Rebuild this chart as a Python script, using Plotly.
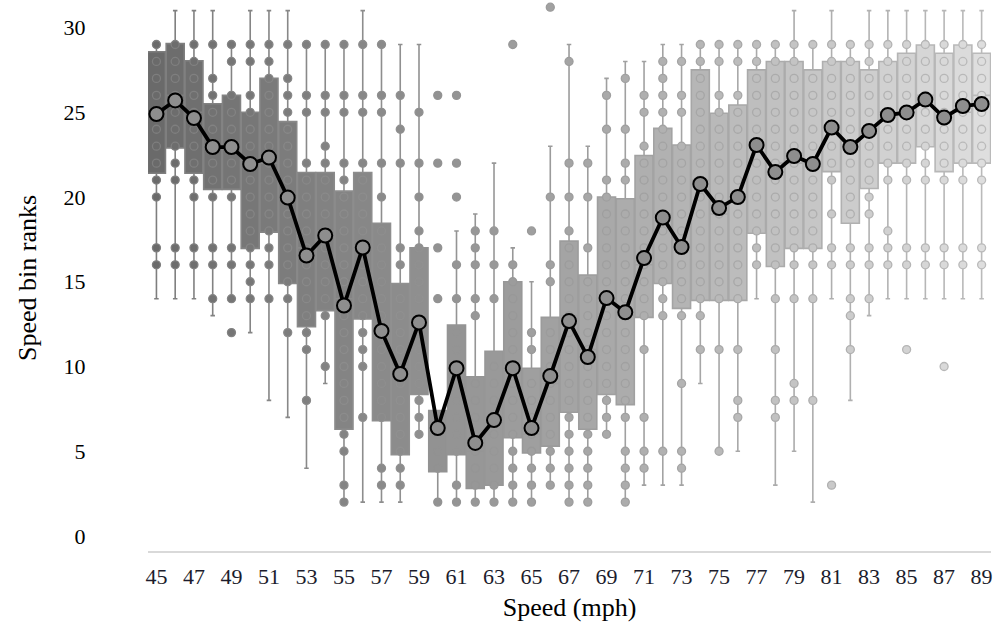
import plotly.graph_objects as go

# ---------------- data ----------------
speeds = [45, 46, 47, 48, 49, 50, 51, 52, 53, 54, 55, 56, 57, 58, 59, 60, 61,
          62, 63, 64, 65, 66, 67, 68, 69, 70, 71, 72, 73, 74, 75, 76, 77, 78,
          79, 80, 81, 82, 83, 84, 85, 86, 87, 88, 89]

q1 = [21.4, 22.9, 21.4, 20.45, 20.45, 16.97, 17.93, 14.9, 12.35, 13.3, 6.3,
      12.8, 6.8, 4.8, 8.35, 3.8, 4.8, 2.8, 3.0, 5.8, 4.9, 5.3, 7.3, 6.3, 8.35,
      7.75, 12.9, 14.9, 13.43, 13.9, 13.9, 13.9, 17.86, 15.9, 16.97, 16.97,
      21.5, 18.45, 20.5, 22.0, 22.0, 22.97, 21.5, 22.0, 22.0]

q3 = [28.57, 29.05, 28.04, 25.5, 26.0, 25.0, 27.0, 24.45, 21.45, 21.45, 20.35,
      21.45, 18.45, 14.9, 17.0, 7.4, 12.45, 9.4, 10.9, 15.0, 9.9, 12.9, 17.4,
      15.4, 20.0, 19.9, 22.45, 24.05, 23.07, 27.5, 24.94, 25.43, 27.5, 28.0,
      28.0, 27.5, 28.0, 28.0, 27.5, 28.0, 28.48, 28.97, 28.48, 28.97, 28.48]

medians = [25, 26, 25, 23, 23, 22, 22, 20, 17, 18, 14, 17, 12, 10, 13, 6, 10,
           5, 7, 10, 6, 9, 13, 11, 14, 13, 16, 19, 17, 21, 19, 20, 23, 22, 22,
           22, 24, 23, 24, 25, 25, 26, 25, 25, 26]

whisker_low = [14, 14, 14, 13, 14, 12, 8, 7, 4, 9, 2, 2, 2, 2, 6, 2, 2, 2, 2,
               2, 2, 3, 2, 2, 6, 2, 3, 3, 3, 9, 5, 5, 14, 3, 5, 2, 14, 8, 13,
               14, 14, 14, 14, 14, 14]

whisker_high = [29, 31, 31, 31, 29, 31, 31, 31, 29, 29, 29, 31, 29, 29, 29,
                7.4, 18, 19, 22, 17, 15, 23, 29, 23, 27, 28, 28, 29, 29, 29,
                29, 29, 29, 29, 31, 29, 31, 29, 31, 31, 31, 31, 31, 31, 31]

means = [24.9, 25.7, 24.66, 22.95, 22.95, 21.95, 22.33, 19.97, 16.55, 17.73,
         13.6, 17.02, 12.1, 9.56, 12.6, 6.37, 9.9, 5.49, 6.84, 9.9, 6.37, 9.44,
         12.68, 10.56, 14.04, 13.2, 16.4, 18.79, 17.05, 20.77, 19.35, 20.0,
         23.07, 21.47, 22.42, 21.95, 24.1, 22.95, 23.9, 24.84, 24.99, 25.75,
         24.69, 25.37, 25.49]

points = [
    [29, 28, 27, 26, 25, 24, 23, 22, 21, 20, 17, 16],
    [29, 28, 27, 26, 25, 24, 23, 22, 21, 17, 16],
    [29, 28, 27, 26, 25, 24, 23, 22, 21, 20, 17, 16],
    [29, 27, 26, 25, 24, 23, 22, 21, 20, 17, 16, 14],
    [29, 28, 26, 25, 24, 23, 22, 21, 20, 17, 16, 14, 12],
    [29, 28, 26, 25, 24, 23, 22, 21, 20, 19, 18, 17, 16, 15, 14],
    [29, 28, 27, 26, 25, 24, 23, 22, 21, 20, 19, 18, 17, 16, 14],
    [29, 27, 26, 25, 24, 23, 22, 21, 20, 19, 18, 17, 16, 15, 14, 12],
    [29, 26, 25, 22, 21, 20, 19, 18, 17, 16, 15, 14, 13, 12, 11, 8],
    [29, 26, 25, 23, 22, 21, 20, 19, 18, 17, 16, 15, 14, 13, 10],
    [29, 26, 25, 22, 21, 20, 19, 18, 17, 16, 15, 14, 13, 12, 11, 10, 9, 8, 7,
     6, 5, 3, 2],
    [29, 26, 25, 22, 21, 20, 19, 18, 17, 16, 15, 14, 13, 12, 11, 10, 7],
    [29, 26, 25, 22, 20, 18, 17, 16, 15, 14, 13, 12, 11, 10, 9, 8, 7, 4, 3],
    [26, 24, 22, 17, 16, 14, 13, 12, 11, 10, 9, 8, 7, 6, 5, 4, 3],
    [25, 22, 20, 18, 17, 16, 15, 14, 13, 12, 11, 10, 9, 8, 7, 6],
    [26, 22, 17, 14, 7, 6, 5, 4, 2],
    [26, 22, 20, 16, 14, 12, 11, 10, 9, 8, 7, 6, 5, 3, 2],
    [18, 17, 16, 14, 13, 9, 8, 7, 6, 5, 4, 3, 2],
    [18, 16, 14, 10, 9, 8, 7, 6, 5, 4, 3, 2],
    [29, 16, 15, 14, 13, 12, 11, 10, 9, 8, 7, 6, 5, 4, 3, 2],
    [18, 12, 11, 9, 8, 7, 6, 5, 4, 3, 2],
    [31.2, 20, 16, 15, 12, 11, 10, 9, 8, 7, 6, 5, 4, 3],
    [28, 22, 20, 18, 17, 16, 15, 14, 13, 12, 11, 10, 9, 8, 7, 6, 5, 4, 3, 2],
    [22, 20, 17, 15, 14, 13, 12, 11, 10, 9, 8, 7, 6, 5, 4, 3, 2],
    [26, 24, 21, 20, 19, 18, 17, 16, 15, 14, 13, 12, 11, 10, 9, 8, 7, 6],
    [27, 24, 22, 21, 19, 18, 17, 16, 15, 14, 13, 12, 11, 10, 9, 8, 7, 5, 4, 3,
     2],
    [26, 25, 23, 22, 21, 20, 19, 18, 17, 16, 15, 14, 13, 11, 7, 5, 4],
    [28, 27, 26, 25, 24, 23, 22, 21, 20, 19, 18, 17, 16, 15, 14, 13, 5],
    [28, 26, 25, 23, 22, 21, 20, 19, 18, 17, 16, 15, 14, 13, 9, 5, 4],
    [29, 28, 27, 26, 25, 24, 23, 22, 21, 20, 19, 18, 17, 16, 15, 14, 13, 11],
    [29, 28, 26, 25, 24, 23, 22, 21, 20, 19, 18, 17, 16, 15, 14, 11, 5],
    [29, 28, 26, 25, 24, 23, 22, 21, 20, 19, 18, 17, 16, 15, 14, 11, 8, 7],
    [29, 28, 27, 26, 25, 24, 23, 22, 21, 20, 19, 18, 17, 16],
    [29, 28, 27, 26, 25, 24, 23, 22, 21, 20, 19, 18, 17, 16, 14, 11, 8, 7],
    [29, 28, 27, 26, 25, 24, 23, 22, 21, 20, 19, 18, 17, 16, 14, 9, 8],
    [29, 27, 26, 25, 24, 23, 22, 21, 20, 19, 18, 17, 16, 14, 8],
    [29, 28, 27, 26, 25, 24, 23, 22, 21, 19, 17, 16, 3],
    [29, 28, 27, 26, 25, 24, 23, 22, 21, 20, 19, 17, 16, 14, 13, 11],
    [29, 28, 27, 26, 25, 24, 23, 22, 21, 20, 19, 17, 16, 14],
    [29, 28, 27, 26, 25, 24, 23, 22, 21, 18, 17, 16],
    [29, 28, 27, 26, 25, 24, 23, 22, 21, 17, 16, 11],
    [29, 28, 27, 26, 25, 24, 23, 22, 21, 17, 16],
    [29, 28, 27, 26, 25, 24, 23, 22, 21, 17, 16, 10],
    [29, 28, 27, 26, 25, 24, 23, 22, 21, 17, 16],
    [29, 28, 27, 26, 25, 24, 23, 22, 21, 17, 16],
]

x_tick_labels = ["45", "47", "49", "51", "53", "55", "57", "59", "61", "63",
                 "65", "67", "69", "71", "73", "75", "77", "79", "81", "83",
                 "85", "87", "89"]
y_tick_labels = ["0", "5", "10", "15", "20", "25", "30"]

# ---------------- styling ----------------
n = len(speeds)


def gray(v):
    v = int(round(v))
    return f"rgb({v},{v},{v})"


fill_cols = [gray(106 + (222 - 106) * i / (n - 1)) for i in range(n)]
line_cols = [gray(126 + (186 - 126) * i / (n - 1)) for i in range(n)]

fig = go.Figure()

for i, s in enumerate(speeds):
    fig.add_trace(go.Box(
        x=[s], q1=[q1[i]], median=[medians[i]], q3=[q3[i]],
        lowerfence=[whisker_low[i]], upperfence=[whisker_high[i]],
        fillcolor=fill_cols[i],
        line=dict(color=line_cols[i], width=1.6),
        whiskerwidth=0.25, width=0.96, boxpoints=False,
        showlegend=False, hoverinfo="skip",
    ))

px, py, pf, pl = [], [], [], []
for i, s in enumerate(speeds):
    for v in points[i]:
        px.append(s)
        py.append(v)
        pf.append(fill_cols[i])
        pl.append(line_cols[i])

fig.add_trace(go.Scatter(
    x=px, y=py, mode="markers", cliponaxis=False, showlegend=False,
    marker=dict(size=8, color=pf, line=dict(color=pl, width=1.3)),
    hoverinfo="skip",
))

fig.add_trace(go.Scatter(
    x=speeds, y=means, mode="lines+markers", cliponaxis=False,
    showlegend=False,
    line=dict(color="black", width=3.8),
    marker=dict(size=14, color="#8e8e8e", line=dict(color="black", width=2)),
))

font_family = "Liberation Serif, Times New Roman, serif"

fig.update_layout(
    width=998, height=630,
    margin=dict(l=148, r=5, t=5, b=79),
    paper_bgcolor="white", plot_bgcolor="white",
    boxmode="overlay",
    font=dict(family=font_family, size=22, color="black"),
    xaxis=dict(
        range=[44.55, 89.5],
        tickmode="array",
        tickvals=[int(t) for t in x_tick_labels],
        ticktext=x_tick_labels,
        showline=True, linecolor="#d9d9d9", linewidth=2,
        showgrid=False, zeroline=False,
        ticks="outside", ticklen=5, tickcolor="rgba(0,0,0,0)",
        tickfont=dict(family=font_family, size=22, color="#1c1c2c"),
        title=dict(text="Speed (mph)",
                   font=dict(family=font_family, size=26, color="black"),
                   standoff=9),
    ),
    yaxis=dict(
        range=[-0.885, 31.33],
        tickmode="array",
        tickvals=[int(t) for t in y_tick_labels],
        ticktext=y_tick_labels,
        showline=False, showgrid=False, zeroline=False,
        ticks="outside", ticklen=57, tickcolor="rgba(0,0,0,0)",
        tickfont=dict(family=font_family, size=22, color="black"),
        title=dict(text="Speed bin ranks",
                   font=dict(family=font_family, size=26, color="black"),
                   standoff=19),
    ),
)

fig.write_html("out.html", config={"displayModeBar": False})

# remove the browser's default page margin so the figure starts at (0, 0)
with open("out.html", "r", encoding="utf-8") as fh:
    html = fh.read()
html = html.replace(
    "<head>",
    "<head><style>html,body{margin:0;padding:0;overflow:hidden;}</style>", 1)
with open("out.html", "w", encoding="utf-8") as fh:
    fh.write(html)
